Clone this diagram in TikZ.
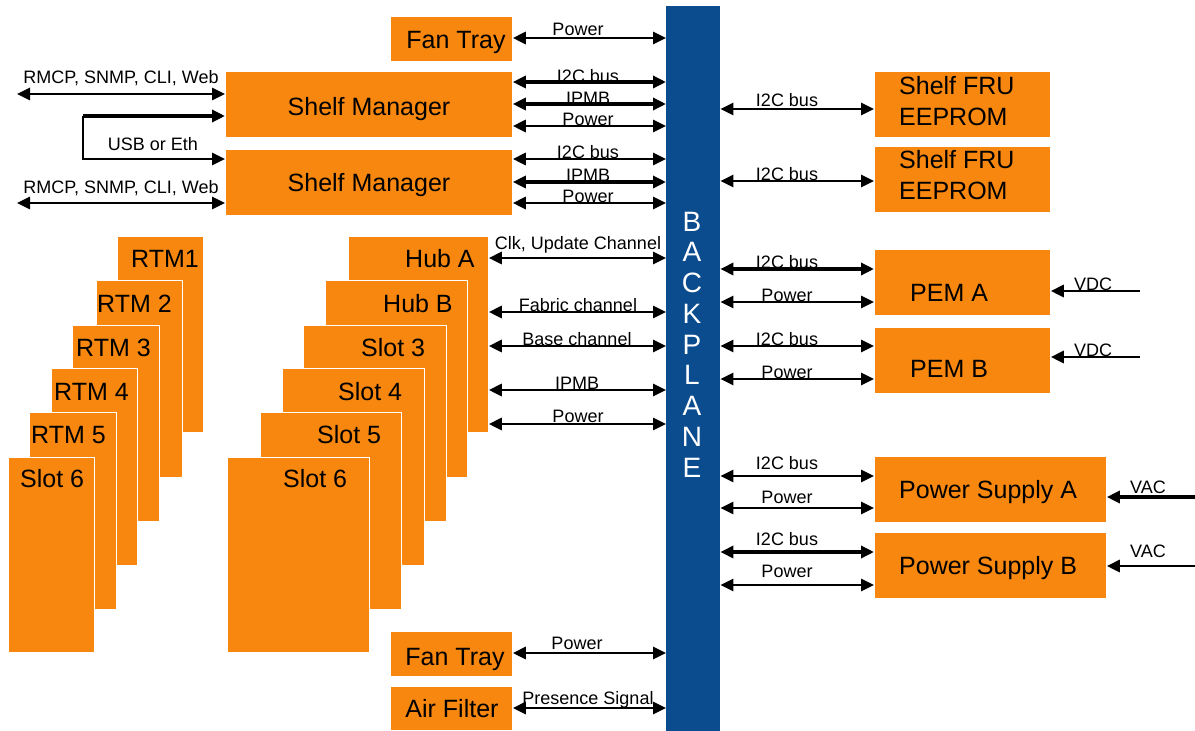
\documentclass[tikz,border=0pt]{standalone}
\usepackage{fontspec}
\setmainfont{Liberation Sans}
\usetikzlibrary{arrows.meta}
\definecolor{org}{HTML}{F7870F}
\definecolor{bpblue}{HTML}{0B4C8E}
\tikzset{
  box/.style={fill=org, draw=white, line width=0.8pt, inner sep=0pt, anchor=north west},
  big/.style={font=\fontsize{25pt}{31pt}\selectfont, inner sep=0pt, anchor=base},
  bigw/.style={big, anchor=base west},
  small/.style={font=\fontsize{18pt}{20pt}\selectfont, inner sep=0pt, anchor=base},
  biarrow/.style={line width=2.8pt, {Triangle[length=13pt,width=12pt]}-{Triangle[length=13pt,width=12pt]}},
  thickbi/.style={biarrow, line width=3.5pt},
  inarrow/.style={line width=2.8pt, -{Triangle[length=13pt,width=12pt]}},
  thickin/.style={inarrow, line width=3.5pt},
  bpletter/.style={font=\fontsize{28pt}{30pt}\selectfont, text=white, inner sep=0pt, anchor=base},
}
\newcommand\mybox[5]{\node[box, minimum width=#4pt, minimum height=#5pt] (#1) at (#2,#3) {};}
\begin{document}
\begin{tikzpicture}[x=1pt, y=-1pt]
\useasboundingbox (0,0) rectangle (1195,731);

% backplane
\node[fill=bpblue, inner sep=0pt, minimum width=54pt, minimum height=725pt, anchor=north west] (bp) at (666,6) {};
\foreach \L [count=\i from 0] in {B,A,C,K,P,L,A,N,E}
  \node[bpletter] (bpl\i) at (692, 231+30.75*\i) {\L};

% top boxes
\mybox{ft1}{390}{16}{122}{45}
\node[big] (ft1t) at (456,48) {Fan Tray};
\mybox{sm1}{225}{71}{287}{66}
\node[big] (sm1t) at (369,115) {Shelf Manager};
\mybox{sm2}{225}{149}{287}{66}
\node[big] (sm2t) at (369,191) {Shelf Manager};

% right boxes
\mybox{fru1}{874}{71}{176}{66}
\node[bigw] (fru1a) at (899,94) {Shelf FRU};
\node[bigw] (fru1b) at (899,125) {EEPROM};
\mybox{fru2}{874}{146}{176}{66}
\node[bigw] (fru2a) at (899,168) {Shelf FRU};
\node[bigw] (fru2b) at (899,199) {EEPROM};
\mybox{pemA}{874}{249}{176}{66}
\node[bigw] (pemAt) at (910,301) {PEM A};
\mybox{pemB}{874}{327}{176}{66}
\node[bigw] (pemBt) at (910,377) {PEM B};
\mybox{psA}{874}{456}{232}{66}
\node[bigw] (psAt) at (899,498) {Power Supply A};
\mybox{psB}{874}{532}{232}{66}
\node[bigw] (psBt) at (899,574) {Power Supply B};

% RTM stack
\mybox{rtm1}{117}{236}{86}{196}
\node[bigw] (rtm1t) at (131,267) {RTM1};
\mybox{rtm2}{96}{280}{86}{197}
\node[bigw] (rtm2t) at (97,312) {RTM 2};
\mybox{rtm3}{72}{325}{87}{196}
\node[bigw] (rtm3t) at (76,356) {RTM 3};
\mybox{rtm4}{51}{368}{86}{197}
\node[bigw] (rtm4t) at (54,400) {RTM 4};
\mybox{rtm5}{29}{412}{87}{197}
\node[bigw] (rtm5t) at (31,443) {RTM 5};
\mybox{ls6}{8}{457}{86}{195}
\node[bigw] (ls6t) at (20,487) {Slot 6};

% Hub / slot stack
\mybox{hubA}{348}{236}{140}{196}
\node[bigw] (hubAt) at (405,267) {Hub A};
\mybox{hubB}{325}{280}{142}{197}
\node[bigw] (hubBt) at (383,312) {Hub B};
\mybox{s3}{303}{325}{143}{196}
\node[bigw] (s3t) at (361,356) {Slot 3};
\mybox{s4}{282}{368}{142}{197}
\node[bigw] (s4t) at (338,400) {Slot 4};
\mybox{s5}{260}{412}{141}{197}
\node[bigw] (s5t) at (317,443) {Slot 5};
\mybox{s6}{227}{457}{142}{195}
\node[bigw] (s6t) at (283,487) {Slot 6};

% bottom boxes
\mybox{ft2}{390}{631}{122}{45}
\node[big] (ft2t) at (455,665) {Fan Tray};
\mybox{af}{390}{686}{122}{44}
\node[big] (aft) at (452,717) {Air Filter};

% left-side connectors
\coordinate (ext1) at (17,94);
\coordinate (ext2) at (17,203);
\coordinate (usb) at (83,137);
\draw[biarrow] (ext1) -- (sm1.west |- ext1);
\node[small] (rm1) at (121,83) {RMCP, SNMP, CLI, Web};
\draw[biarrow] (ext2) -- (sm2.west |- ext2);
\node[small] (rm2) at (121,193) {RMCP, SNMP, CLI, Web};
\draw[thickin] (usb |- 0,116) -- (sm1.west |- 0,116);
\draw[inarrow] (usb |- 0,116) -- (usb |- 0,159) -- (sm2.west |- 0,159);
\node[small] (usbt) at (153,150) {USB or Eth};

% left of backplane
\draw[biarrow] (ft1.east |- 0,38) -- (bp.west |- 0,38);
\node[small] (p1) at (578,35) {Power};
\draw[thickbi] (sm1.east |- 0,82) -- (bp.west |- 0,82);
\node[small] (i1) at (588,82) {I2C bus};
\draw[thickbi] (sm1.east |- 0,104) -- (bp.west |- 0,104);
\node[small] (m1) at (588,104) {IPMB};
\draw[biarrow] (sm1.east |- 0,126) -- (bp.west |- 0,126);
\node[small] (p2) at (588,125) {Power};
\draw[biarrow] (sm2.east |- 0,159) -- (bp.west |- 0,159);
\node[small] (i2) at (588,158) {I2C bus};
\draw[thickbi] (sm2.east |- 0,182) -- (bp.west |- 0,182);
\node[small] (m2) at (588,181) {IPMB};
\draw[biarrow] (sm2.east |- 0,203) -- (bp.west |- 0,203);
\node[small] (p3) at (588,202) {Power};

\draw[biarrow] (hubA.east |- 0,258) -- (bp.west |- 0,258);
\node[small] (clk) at (578,249) {Clk, Update Channel};
\draw[biarrow] (hubA.east |- 0,312) -- (bp.west |- 0,312);
\node[small] (fab) at (578,311) {Fabric channel};
\draw[biarrow] (hubA.east |- 0,346) -- (bp.west |- 0,346);
\node[small] (bas) at (577,345) {Base channel};
\draw[biarrow] (hubA.east |- 0,390) -- (bp.west |- 0,390);
\node[small] (m3) at (577,389) {IPMB};
\draw[biarrow] (hubA.east |- 0,424) -- (bp.west |- 0,424);
\node[small] (p4) at (578,422) {Power};

\draw[biarrow] (ft2.east |- 0,653) -- (bp.west |- 0,653);
\node[small] (p5) at (577,649) {Power};
\draw[biarrow] (af.east |- 0,708) -- (bp.west |- 0,708);
\node[small] (pres) at (588,704) {Presence Signal};

% right of backplane
\draw[biarrow] (bp.east |- 0,109) -- (fru1.west |- 0,109);
\node[small] (i3) at (787,106) {I2C bus};
\draw[biarrow] (bp.east |- 0,181) -- (fru2.west |- 0,181);
\node[small] (i4) at (787,180) {I2C bus};
\draw[thickbi] (bp.east |- 0,269) -- (pemA.west |- 0,269);
\node[small] (i5) at (787,268) {I2C bus};
\draw[biarrow] (bp.east |- 0,302) -- (pemA.west |- 0,302);
\node[small] (p6) at (787,301) {Power};
\draw[biarrow] (bp.east |- 0,346) -- (pemB.west |- 0,346);
\node[small] (i6) at (787,345) {I2C bus};
\draw[biarrow] (bp.east |- 0,379) -- (pemB.west |- 0,379);
\node[small] (p7) at (787,378) {Power};
\draw[biarrow] (bp.east |- 0,476) -- (psA.west |- 0,476);
\node[small] (i7) at (787,469) {I2C bus};
\draw[biarrow] (bp.east |- 0,508) -- (psA.west |- 0,508);
\node[small] (p8) at (787,503) {Power};
\draw[thickbi] (bp.east |- 0,552) -- (psB.west |- 0,552);
\node[small] (i8) at (787,545) {I2C bus};
\draw[biarrow] (bp.east |- 0,585) -- (psB.west |- 0,585);
\node[small] (p9) at (787,577) {Power};

% external supplies
\coordinate (vdc1) at (1140,291);
\coordinate (vdc2) at (1140,357);
\coordinate (vac1) at (1195,497);
\coordinate (vac2) at (1195,566);
\draw[inarrow] (vdc1) -- (pemA.east |- vdc1);
\node[small] (vd1) at (1093,290) {VDC};
\draw[inarrow] (vdc2) -- (pemB.east |- vdc2);
\node[small] (vd2) at (1093,356) {VDC};
\draw[thickin] (vac1) -- (psA.east |- vac1);
\node[small] (va1) at (1148,493) {VAC};
\draw[inarrow] (vac2) -- (psB.east |- vac2);
\node[small] (va2) at (1148,557) {VAC};
\end{tikzpicture}
\end{document}
